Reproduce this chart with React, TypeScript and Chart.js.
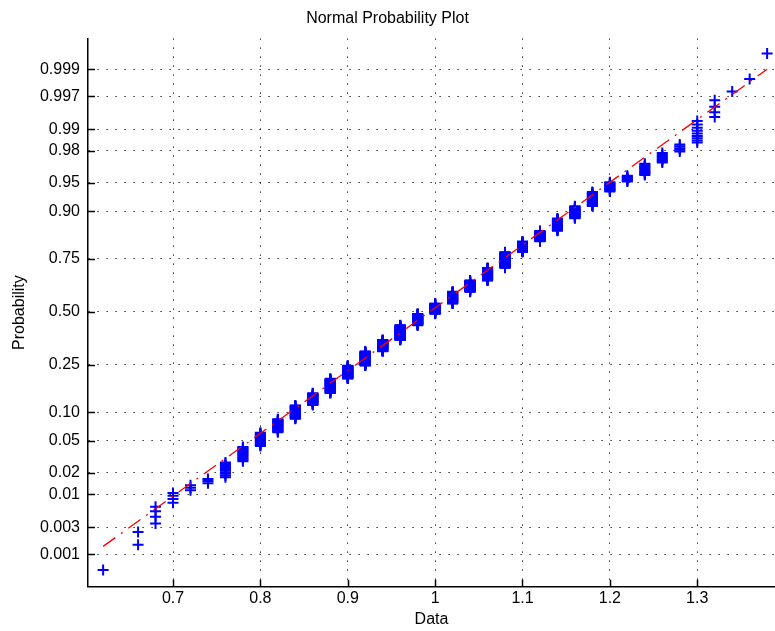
import React, { useEffect, useRef } from "react";
import { Chart, registerables } from "chart.js";

Chart.register(...registerables);

// Sample values (rounded to 0.02) and how many observations fall on each value (n = 1000)
const binValues = [
  0.62, 0.64, 0.66, 0.68, 0.7, 0.72, 0.74, 0.76, 0.78, 0.8, 0.82, 0.84, 0.86, 0.88, 0.9, 0.92,
  0.94, 0.96, 0.98, 1.0, 1.02, 1.04, 1.06, 1.08, 1.1, 1.12, 1.14, 1.16, 1.18, 1.2, 1.22, 1.24,
  1.26, 1.28, 1.3, 1.32, 1.34, 1.36, 1.38,
];
const binCounts = [
  1, 0, 2, 4, 4, 3, 3, 11, 15, 19, 24, 31, 33, 47, 49, 61,
  53, 72, 58, 52, 59, 54, 57, 65, 38, 34, 34, 28, 26, 14, 8, 12,
  8, 5, 9, 4, 1, 1, 1,
];

// Reference (fit) line end points: data value and probability
const fitLineX = [0.62, 1.38];
const fitLineProb = [0.0014, 0.999];

// Axis ticks
const probTicks = [0.001, 0.003, 0.01, 0.02, 0.05, 0.1, 0.25, 0.5, 0.75, 0.9, 0.95, 0.98, 0.99, 0.997, 0.999];
const probTickLabels = ["0.001", "0.003", "0.01", "0.02", "0.05", "0.10", "0.25", "0.50", "0.75", "0.90", "0.95", "0.98", "0.99", "0.997", "0.999"];
const xTicks = [0.7, 0.8, 0.9, 1.0, 1.1, 1.2, 1.3];
const xTickLabels = ["0.7", "0.8", "0.9", "1", "1.1", "1.2", "1.3"];

// Axis limits (x in data units, y in normal quantile units)
const xLimits = [0.6027, 1.389];
const zLimits = [-3.503, 3.483];

// Inverse standard normal CDF (Acklam)
function norminv(p: number): number {
  const a = [-3.969683028665376e1, 2.209460984245205e2, -2.759285104469687e2, 1.38357751867269e2, -3.066479806614716e1, 2.506628277459239];
  const b = [-5.447609879822406e1, 1.615858368580409e2, -1.556989798598866e2, 6.680131188771972e1, -1.328068155288572e1];
  const c = [-7.784894002430293e-3, -3.223964580411365e-1, -2.400758277161838, -2.549732539343734, 4.374664141464968, 2.938163982698783];
  const d = [7.784695709041462e-3, 3.224671290700398e-1, 2.445134137142996, 3.754408661907416];
  const pl = 0.02425;
  if (p < pl) {
    const q = Math.sqrt(-2 * Math.log(p));
    return (((((c[0] * q + c[1]) * q + c[2]) * q + c[3]) * q + c[4]) * q + c[5]) / ((((d[0] * q + d[1]) * q + d[2]) * q + d[3]) * q + 1);
  }
  if (p > 1 - pl) {
    const q = Math.sqrt(-2 * Math.log(1 - p));
    return -(((((c[0] * q + c[1]) * q + c[2]) * q + c[3]) * q + c[4]) * q + c[5]) / ((((d[0] * q + d[1]) * q + d[2]) * q + d[3]) * q + 1);
  }
  const q = p - 0.5;
  const r = q * q;
  return ((((((a[0] * r + a[1]) * r + a[2]) * r + a[3]) * r + a[4]) * r + a[5]) * q) / (((((b[0] * r + b[1]) * r + b[2]) * r + b[3]) * r + b[4]) * r + 1);
}

const FONT = "'Liberation Sans', Arial, Helvetica, sans-serif";

const inwardTicks = {
  id: "inwardTicks",
  afterDraw(chart: any) {
    const { ctx, chartArea, scales } = chart;
    const len = 7;
    ctx.save();
    ctx.strokeStyle = "#000";
    ctx.lineWidth = 1.5;
    ctx.beginPath();
    scales.x.ticks.forEach((t: any) => {
      const px = Math.round(scales.x.getPixelForValue(t.value)) + 0.5;
      ctx.moveTo(px, chartArea.bottom);
      ctx.lineTo(px, chartArea.bottom - len);
    });
    scales.y.ticks.forEach((t: any) => {
      const py = Math.round(scales.y.getPixelForValue(t.value)) + 0.5;
      ctx.moveTo(chartArea.left, py);
      ctx.lineTo(chartArea.left + len, py);
    });
    ctx.stroke();
    ctx.restore();
  },
};

export default function App() {
  const canvasRef = useRef<HTMLCanvasElement | null>(null);

  useEffect(() => {
    document.body.style.margin = "0";
    const canvas = canvasRef.current;
    if (!canvas) return;

    const n = binCounts.reduce((s, v) => s + v, 0);
    const points: { x: number; y: number }[] = [];
    let rank = 0;
    binValues.forEach((x, i) => {
      for (let k = 0; k < binCounts[i]; k++) {
        rank += 1;
        points.push({ x, y: norminv((rank - 0.5) / n) });
      }
    });
    const fitPoints = fitLineX.map((x, i) => ({ x, y: norminv(fitLineProb[i]) }));
    const tickFont = { family: FONT, size: 16, lineHeight: 1.2 };

    const chart = new Chart(canvas, {
      type: "scatter",
      data: {
        datasets: [
          {
            label: "fit",
            data: fitPoints,
            showLine: true,
            borderColor: "#ff0000",
            borderWidth: 1.3,
            borderDash: [15, 7, 2, 7],
            pointRadius: 0,
            order: 0,
          } as any,
          {
            label: "data",
            data: points,
            pointStyle: "cross",
            pointRadius: 5.5,
            pointBorderWidth: 2,
            borderColor: "#0000ff",
            backgroundColor: "#0000ff",
            pointHoverRadius: 5.5,
            order: 1,
          } as any,
        ],
      },
      options: {
        animation: false,
        responsive: false,
        maintainAspectRatio: false,
        events: [],
        layout: { padding: 0, autoPadding: false },
        plugins: {
          legend: { display: false },
          tooltip: { enabled: false },
          title: {
            display: true,
            text: "Normal Probability Plot",
            color: "#000",
            font: { family: FONT, size: 16, weight: "normal", lineHeight: 1.2 },
            padding: { top: 9, bottom: 10.3 },
          },
        },
        scales: {
          x: {
            type: "linear",
            min: xLimits[0],
            max: xLimits[1],
            afterFit: (s: any) => {
              s.height = 44.3;
              s.paddingLeft = 0;
              s.paddingRight = 0;
            },
            afterBuildTicks: (s: any) => {
              s.ticks = xTicks.map((v) => ({ value: v }));
            },
            ticks: {
              callback: (_v: any, i: number) => xTickLabels[i],
              color: "#000",
              font: tickFont,
              padding: 2,
              maxRotation: 0,
              autoSkip: false,
            },
            grid: { color: "#000", lineWidth: 1, drawTicks: false },
            border: { display: true, color: "#000", width: 1.5, dash: [1.2, 7.8] },
            title: {
              display: true,
              text: "Data",
              color: "#000",
              font: tickFont,
              padding: { top: 0, bottom: 1.4 },
            },
          },
          y: {
            type: "linear",
            min: zLimits[0],
            max: zLimits[1],
            afterFit: (s: any) => {
              s.width = 88;
              s.paddingTop = 0;
              s.paddingBottom = 0;
            },
            afterBuildTicks: (s: any) => {
              s.ticks = probTicks.map((p) => ({ value: norminv(p) }));
            },
            ticks: {
              callback: (_v: any, i: number) => probTickLabels[i],
              color: "#000",
              font: tickFont,
              padding: 8,
              autoSkip: false,
            },
            grid: { color: "#000", lineWidth: 1, drawTicks: false },
            border: { display: true, color: "#000", width: 1.5, dash: [1.2, 7.8] },
            title: {
              display: true,
              text: "Probability",
              color: "#000",
              font: tickFont,
              padding: { top: 10.4, bottom: 0 },
            },
          },
        },
      },
      plugins: [inwardTicks],
    } as any);

    return () => {
      chart.destroy();
    };
  }, []);

  return (
    <div style={{ width: 775, height: 631, background: "#fff" }}>
      <canvas ref={canvasRef} width={775} height={631} style={{ display: "block", width: 775, height: 631 }} />
    </div>
  );
}
